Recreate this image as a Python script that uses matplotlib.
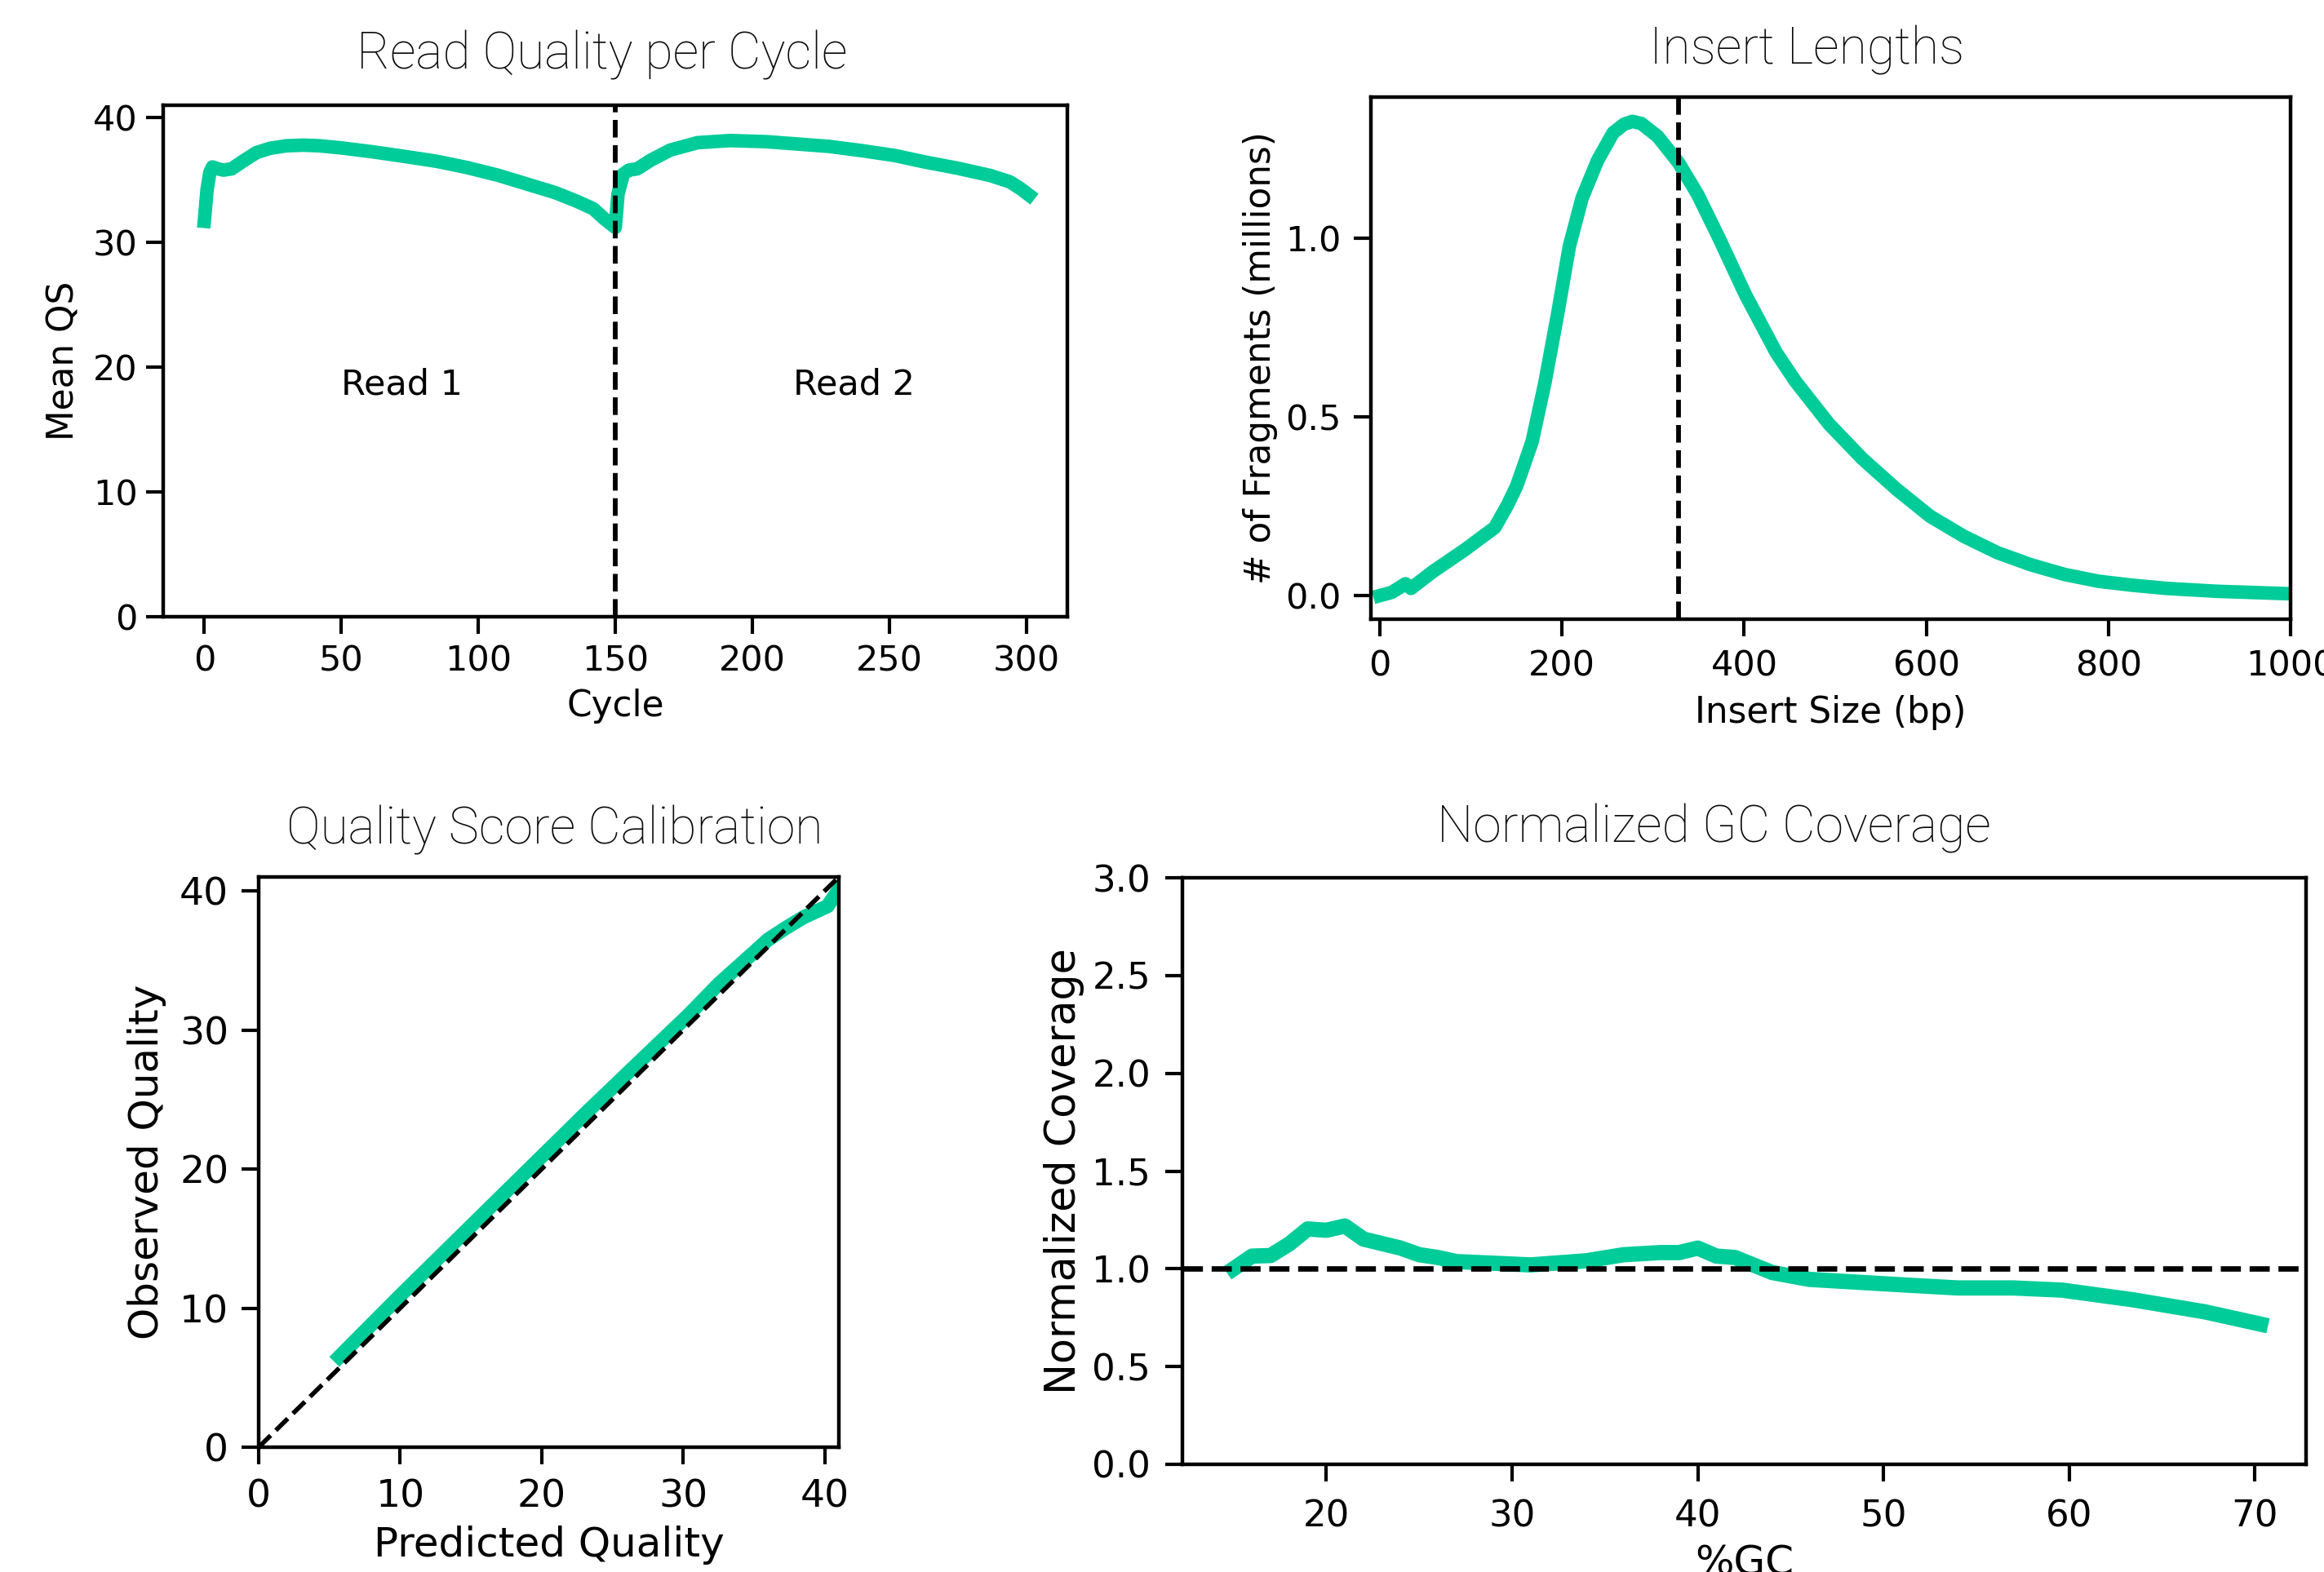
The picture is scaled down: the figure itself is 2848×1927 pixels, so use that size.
import matplotlib
matplotlib.use('Agg')
import matplotlib.pyplot as plt

GREEN = '#00CC99'

# read quality per cycle
cycles = [0, 1, 2, 3, 5, 7, 10, 14, 19, 24, 30, 36, 42, 50, 62, 73, 85, 96,
          107, 119, 128, 136, 142, 146, 150, 151, 153, 155, 158, 163, 170,
          180, 192, 205, 216, 228, 240, 252, 263, 275, 287, 294, 298, 301]
mean_qs = [31.7, 34.2, 35.6, 36.05, 35.9, 35.8, 35.9, 36.5, 37.2, 37.55,
           37.75, 37.8, 37.75, 37.58, 37.25, 36.9, 36.5, 36.0, 35.4, 34.6,
           34.0, 33.3, 32.7, 31.9, 31.2, 33.9, 35.5, 35.8, 35.9, 36.6, 37.4,
           38.0, 38.17, 38.08, 37.9, 37.7, 37.36, 36.97, 36.45, 35.95, 35.36,
           34.86, 34.3, 33.8]
read_split = 150
read_labels = ['Read 1', 'Read 2']
read_label_x = [50, 215]

# insert lengths
insert_bp = [0, 13, 28, 34, 58, 92, 109, 126, 140, 150, 158, 167, 181, 195,
             208, 222, 239, 256, 268, 277, 287, 305, 328, 349, 373, 401, 435,
             456, 493, 530, 567, 604, 641, 678, 715, 752, 789, 826, 864, 919,
             1000]
fragments_m = [0.0, 0.009, 0.033, 0.02, 0.067, 0.126, 0.158, 0.19, 0.253,
               0.306, 0.364, 0.43, 0.594, 0.786, 0.977, 1.112, 1.217, 1.294,
               1.318, 1.326, 1.32, 1.284, 1.21, 1.121, 0.996, 0.843, 0.68,
               0.6, 0.48, 0.382, 0.298, 0.222, 0.166, 0.12, 0.086, 0.059,
               0.04, 0.029, 0.02, 0.012, 0.005]
insert_mark = 328

# quality score calibration
predicted_q = [5.7, 10, 13.4, 18, 23.1, 27, 30.4, 32.5, 34.8, 36, 37.2,
               38.5, 40.2, 41.2]
observed_q = [6.5, 10.9, 14.3, 18.9, 24.0, 27.8, 31.1, 33.3, 35.4, 36.5,
              37.3, 38.1, 38.9, 40.4]

# normalized GC coverage
gc_pct = [15, 16, 17, 18, 19, 20, 21, 22, 24, 25, 26, 27, 31, 34, 36, 38,
          39, 40, 41, 42, 44, 46, 51, 54, 57, 59.6, 63.4, 67.3, 70.3]
gc_cov = [1.0, 1.065, 1.068, 1.127, 1.204, 1.197, 1.219, 1.152, 1.106,
          1.072, 1.058, 1.037, 1.02, 1.041, 1.072, 1.083, 1.083, 1.106,
          1.065, 1.058, 0.981, 0.946, 0.918, 0.902, 0.902, 0.891, 0.842,
          0.78, 0.717]

W, H = 2848, 1927
fig = plt.figure(figsize=(W / 100, H / 100), dpi=100)


def add_panel(l, t, r, b):
    # pixel box -> figure fraction
    return fig.add_axes([l / W, 1 - b / H, (r - l) / W, (b - t) / H])


def style(ax, tick_size, xpad, ypad):
    for s in ax.spines.values():
        s.set_linewidth(3.2)
    ax.tick_params(labelsize=tick_size, length=15, width=3.0)
    ax.tick_params(axis='x', pad=xpad)
    ax.tick_params(axis='y', pad=ypad)


def title(x, y, s):
    fig.text(x / W, 1 - y / H, s, ha='center', va='baseline',
             fontfamily='Roboto', fontweight='light', fontsize=45,
             color='#0a0a0a')


# top left
ax1 = add_panel(200, 129, 1308, 756)
ax1.plot(cycles, mean_qs, color=GREEN, lw=12)
ax1.axvline(read_split, color='k', ls='--', lw=4.2)
for lx, lab in zip(read_label_x, read_labels):
    ax1.text(lx, 20, lab, va='top', ha='left', fontsize=31)
ax1.set_xlim(-15, 315)
ax1.set_ylim(0, 41)
ax1.set_xticks(range(0, 301, 50))
ax1.set_yticks(range(0, 41, 10))
ax1.set_xlabel('Cycle', fontsize=31.5, labelpad=9)
ax1.set_ylabel('Mean QS', fontsize=31.5, labelpad=10.5)
style(ax1, 31, 9, 7.6)
title(738, 85, 'Read Quality per Cycle')

# top right
ax2 = add_panel(1680, 119, 2807, 759)
ax2.plot(insert_bp, fragments_m, color=GREEN, lw=12)
ax2.axvline(insert_mark, color='k', ls='--', lw=4.2)
ax2.set_xlim(-10, 1000)
ax2.set_ylim(-0.066, 1.394)
ax2.set_xticks(range(0, 1001, 200))
ax2.set_yticks([0.0, 0.5, 1.0])
ax2.set_xlabel('Insert Size (bp)', fontsize=31.5, labelpad=10.5)
ax2.set_ylabel('# of Fragments (millions)', fontsize=31.5, labelpad=6.5)
style(ax2, 31, 11.5, 11.5)
title(2214, 78, 'Insert Lengths')

# bottom left
ax3 = add_panel(317, 1075, 1028, 1774)
ax3.plot(predicted_q, observed_q, color=GREEN, lw=12.5)
ax3.plot([0, 41], [0, 41], color='k', ls='--', lw=4)
ax3.set_xlim(0, 41)
ax3.set_ylim(0, 41)
ax3.set_xticks(range(0, 41, 10))
ax3.set_yticks(range(0, 41, 10))
ax3.set_xlabel('Predicted Quality', fontsize=36, labelpad=9)
ax3.set_ylabel('Observed Quality', fontsize=36, labelpad=11.5)
style(ax3, 34, 12.8, 11.5)
title(680, 1034, 'Quality Score Calibration')

# bottom right
ax4 = add_panel(1449, 1076, 2826, 1795)
ax4.plot(gc_pct, gc_cov, color=GREEN, lw=13.5)
ax4.axhline(1.0, color='k', ls='--', lw=4.8)
ax4.set_xlim(12.25, 72.75)
ax4.set_ylim(0, 3)
ax4.set_xticks(range(20, 71, 10))
ax4.set_yticks([0.0, 0.5, 1.0, 1.5, 2.0, 2.5, 3.0])
ax4.set_xlabel('%GC', fontsize=36, labelpad=9)
ax4.set_ylabel('Normalized Coverage', fontsize=36.5, labelpad=6.5)
style(ax4, 32.5, 15.5, 13)
title(2100, 1033, 'Normalized GC Coverage')

fig.savefig('out.png', dpi=100)
